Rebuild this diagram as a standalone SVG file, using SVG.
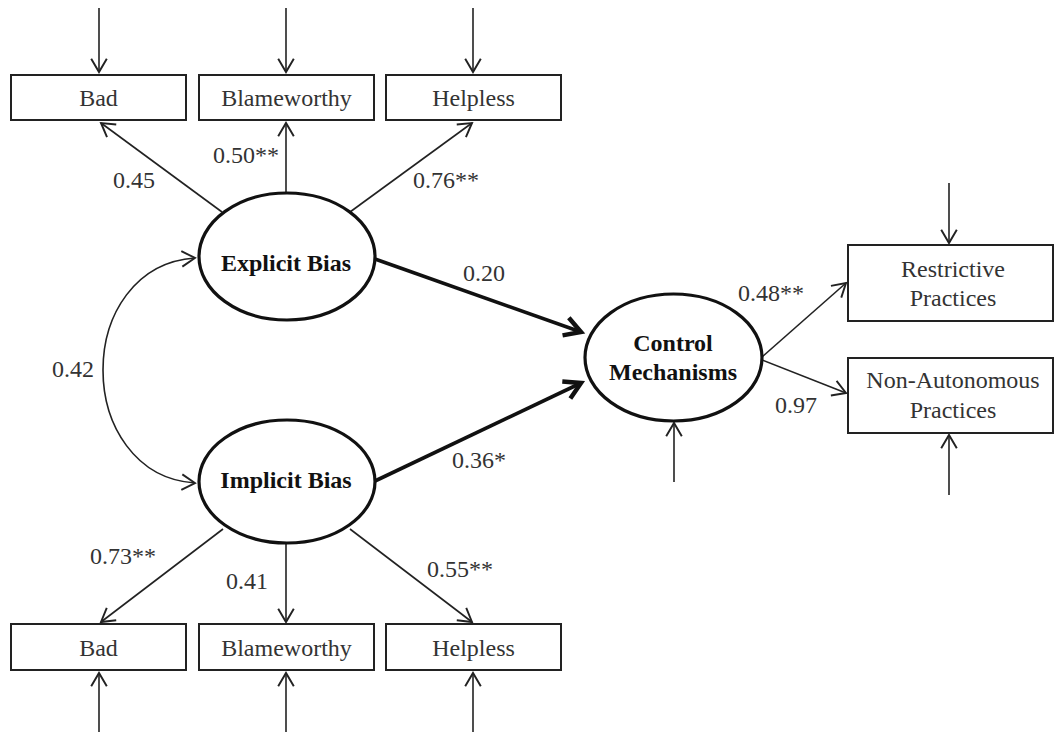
<svg xmlns="http://www.w3.org/2000/svg" width="1055" height="734" viewBox="0 0 1055 734">
<defs>
<style>
.box{fill:#fff;stroke:#222;stroke-width:2}
.ell{fill:#fff;stroke:#111;stroke-width:3.2}
.thin{fill:none;stroke:#222;stroke-width:1.6}
.bold{fill:none;stroke:#111;stroke-width:3.6}
.t{font-family:"Liberation Serif","Times New Roman",serif;font-size:24px;fill:#333;text-anchor:middle}
.b{font-family:"Liberation Serif","Times New Roman",serif;font-size:24px;font-weight:bold;fill:#111;text-anchor:middle}
.n{font-family:"Liberation Serif","Times New Roman",serif;font-size:24px;fill:#333}
</style>
<marker id="a" markerUnits="userSpaceOnUse" markerWidth="24" markerHeight="24" viewBox="-14 -10 18 20" refX="0" refY="0" orient="auto-start-reverse">
<path d="M-11,-6.5 L0,0 L-11,6.5" fill="none" stroke="#222" stroke-width="1.6"/>
</marker>
<marker id="ab" markerUnits="userSpaceOnUse" markerWidth="30" markerHeight="30" viewBox="-18 -12 22 24" refX="0" refY="0" orient="auto">
<path d="M-13,-7.5 L0,0 L-13,7.5" fill="none" stroke="#111" stroke-width="3.6"/>
</marker>
</defs>
<rect width="1055" height="734" fill="#fff"/>

<g id="connectors">
<!-- error arrows top -->
<line class="thin" x1="99" y1="8" x2="99" y2="72" marker-end="url(#a)"/>
<line class="thin" x1="286" y1="8" x2="286" y2="72" marker-end="url(#a)"/>
<line class="thin" x1="473" y1="8" x2="473" y2="72" marker-end="url(#a)"/>
<!-- explicit loadings -->
<line class="thin" x1="222" y1="212" x2="101" y2="123" marker-end="url(#a)"/>
<line class="thin" x1="286" y1="193" x2="286" y2="123" marker-end="url(#a)"/>
<line class="thin" x1="350" y1="212" x2="472" y2="123" marker-end="url(#a)"/>
<!-- covariance -->
<path class="thin" d="M195,258 C135,262 103,315 103,370 C103,425 135,479 195,483" marker-start="url(#a)" marker-end="url(#a)"/>
<!-- structural paths -->
<line class="bold" x1="375" y1="259" x2="581" y2="332" marker-end="url(#ab)"/>
<line class="bold" x1="375" y1="481" x2="581" y2="383" marker-end="url(#ab)"/>
<!-- implicit loadings -->
<line class="thin" x1="223" y1="529" x2="101" y2="622" marker-end="url(#a)"/>
<line class="thin" x1="286" y1="543" x2="286" y2="622" marker-end="url(#a)"/>
<line class="thin" x1="350" y1="529" x2="472" y2="622" marker-end="url(#a)"/>
<!-- error arrows bottom -->
<line class="thin" x1="99" y1="732" x2="99" y2="673" marker-end="url(#a)"/>
<line class="thin" x1="286" y1="732" x2="286" y2="673" marker-end="url(#a)"/>
<line class="thin" x1="473" y1="732" x2="473" y2="673" marker-end="url(#a)"/>
<!-- control disturbance -->
<line class="thin" x1="674" y1="482" x2="674" y2="423" marker-end="url(#a)"/>
<!-- control to outcomes -->
<line class="thin" x1="762" y1="357" x2="846" y2="283" marker-end="url(#a)"/>
<line class="thin" x1="762" y1="360" x2="846" y2="393" marker-end="url(#a)"/>
<!-- outcome errors -->
<line class="thin" x1="949" y1="183" x2="949" y2="243" marker-end="url(#a)"/>
<line class="thin" x1="949" y1="495" x2="949" y2="435" marker-end="url(#a)"/>
</g>

<g id="labels">
<text class="n" x="113" y="188">0.45</text>
<text class="n" x="213" y="163">0.50**</text>
<text class="n" x="413" y="188">0.76**</text>
<text class="n" x="52" y="377">0.42</text>
<text class="n" x="463" y="281">0.20</text>
<text class="n" x="452" y="468">0.36*</text>
<text class="n" x="90" y="564">0.73**</text>
<text class="n" x="226" y="589">0.41</text>
<text class="n" x="427" y="577">0.55**</text>
<text class="n" x="738" y="301">0.48**</text>
<text class="n" x="775" y="413">0.97</text>
</g>

<g id="bad-top"><rect class="box" x="11" y="75" width="175" height="45"/><text class="t" x="98.5" y="106">Bad</text></g>
<g id="blame-top"><rect class="box" x="199" y="75" width="175" height="45"/><text class="t" x="286.5" y="106">Blameworthy</text></g>
<g id="help-top"><rect class="box" x="386" y="75" width="175" height="45"/><text class="t" x="473.5" y="106">Helpless</text></g>

<g id="explicit"><ellipse class="ell" cx="287" cy="256.5" rx="88" ry="63.5"/><text class="b" x="286" y="271">Explicit Bias</text></g>
<g id="implicit"><ellipse class="ell" cx="287" cy="481.5" rx="88" ry="61.5"/><text class="b" x="286" y="488">Implicit Bias</text></g>
<g id="control"><ellipse class="ell" cx="673.5" cy="357.5" rx="88.5" ry="63.5"/><text class="b" x="673" y="351">Control</text><text class="b" x="673" y="380">Mechanisms</text></g>

<g id="restrictive"><rect class="box" x="848" y="245" width="205" height="76"/><text class="t" x="953" y="277">Restrictive</text><text class="t" x="953" y="306">Practices</text></g>
<g id="nonauto"><rect class="box" x="848" y="358" width="205" height="75"/><text class="t" x="953" y="388">Non-Autonomous</text><text class="t" x="953" y="418">Practices</text></g>

<g id="bad-bot"><rect class="box" x="11" y="624" width="175" height="46"/><text class="t" x="98.5" y="656">Bad</text></g>
<g id="blame-bot"><rect class="box" x="199" y="624" width="175" height="46"/><text class="t" x="286.5" y="656">Blameworthy</text></g>
<g id="help-bot"><rect class="box" x="386" y="624" width="175" height="46"/><text class="t" x="473.5" y="656">Helpless</text></g>
</svg>
